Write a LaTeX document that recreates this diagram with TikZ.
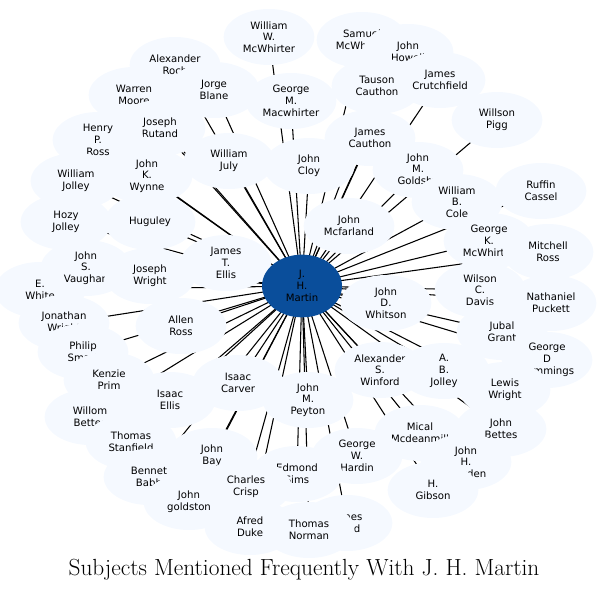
\documentclass[tikz,border=0pt]{standalone}
\usepackage{fontspec}
\setsansfont{DejaVu Sans}
\usetikzlibrary{shapes.geometric}
\definecolor{leafblue}{HTML}{F5F9FF}
\definecolor{hubblue}{HTML}{0A4E9B}
\pgfdeclarelayer{background}
\pgfsetlayers{background,main}

\begin{document}
\begin{tikzpicture}[x=0.75pt,y=-0.75pt,
    leaf/.style={ellipse,fill=leafblue,minimum width=68pt,minimum height=42pt,inner sep=0pt,
        align=center,font=\sffamily\fontsize{7.6}{8.8}\selectfont},
    hub/.style={ellipse,fill=hubblue,minimum width=60pt,minimum height=47pt,inner sep=0pt,
        align=center,font=\sffamily\fontsize{7.6}{8.8}\selectfont},
    link/.style={draw=black,line width=0.8pt}]

    \useasboundingbox (0,0) rectangle (609,592);

    % Subjects around the hub %
    \foreach \px/\py/\txt [count=\i] in {
        269/37/{William\\W.\\McWhirter}, 362/40/{Samuel\\McWhirter}, 408/52/{John\\Howell},
        175/65/{Alexander\\Roch}, 214/90/{Jorge\\Blane}, 134/95/{Warren\\Moore},
        291/101/{George\\M.\\Macwhirter}, 377/86/{Tauson\\Cauthon}, 440/80/{James\\Crutchfield},
        160/128/{Joseph\\Rutand}, 98/140/{Henry\\P.\\Ross}, 370/138/{James\\Cauthon},
        497/120/{Willson\\Pigg}, 229/161/{William\\July}, 309/166/{John\\Cloy},
        147/176/{John\\K.\\Wynne}, 418/170/{John\\M.\\Goldsby}, 76/181/{William\\Jolley},
        457/202/{William\\B.\\Cole}, 541/191/{Ruffin\\Cassel}, 349/226/{John\\Mcfarland},
        66/222/{Hozy\\Jolley}, 150/222/{Huguley}, 226/263/{James\\T.\\Ellis},
        489/241/{George\\K.\\McWhirter}, 548/252/{Mitchell\\Ross}, 40/290/{E.\\White},
        86/268/{John\\S.\\Vaughan}, 150/276/{Joseph\\Wright}, 480/290/{Wilson\\C.\\Davis},
        386/303/{John\\D.\\Whitson}, 551/303/{Nathaniel\\Puckett}, 64/323/{Jonathan\\Wright},
        181/326/{Allen\\Ross}, 502/332/{Jubal\\Grant}, 83/352/{Philip\\Smart},
        547/360/{George\\D\\Cummings}, 380/370/{Alexander\\S.\\Winford}, 444/371/{A.\\B.\\Jolley},
        109/380/{Kenzie\\Prim}, 238/383/{Isaac\\Carver}, 308/400/{John\\M.\\Peyton},
        170/400/{Isaac\\Ellis}, 505/390/{Lewis\\Wright}, 90/417/{Willom\\Bettes},
        501/429/{John\\Bettes}, 420/433/{Mical\\Mcdeanmill}, 131/442/{Thomas\\Stanfield},
        212/456/{John\\Bay}, 357/456/{George\\W.\\Hardin}, 466/462/{John\\H.\\Bowden},
        297/474/{Edmond\\Sims}, 149/477/{Bennet\\Babb}, 246/487/{Charles\\Crisp},
        433/490/{H.\\Gibson}, 189/502/{John\\goldston}, 347/523/{James\\Hand},
        250/527/{Afred\\Duke}, 309/530/{Thomas\\Norman}}
    {
        \node[leaf] (s\i) at (\px,\py) {\txt};
    }

    \node[hub] (martin) at (302,286) {J.\\H.\\Martin};

    % Links to the hub %
    \begin{pgfonlayer}{background}
        \foreach \i in {1,...,59}
            \draw[link] (martin.center) -- (s\i.center);
    \end{pgfonlayer}

    \node (title) at (304,570) {\fontsize{17.5}{20}\selectfont Subjects Mentioned Frequently With J. H. Martin};

\end{tikzpicture}
\end{document}
